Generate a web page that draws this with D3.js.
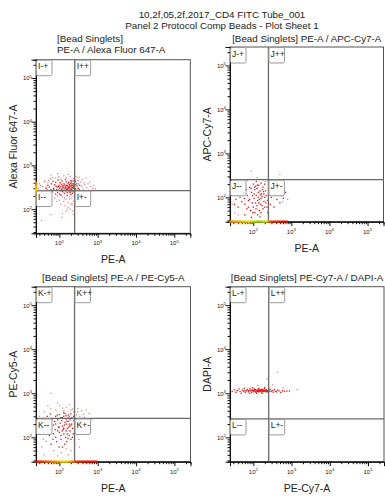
<!DOCTYPE html>
<html><head><meta charset="utf-8">
<script src="https://cdn.jsdelivr.net/npm/d3@7"></script>
<style>
body{margin:0;background:#fff}
svg{display:block}
text{font-family:"Liberation Sans",Arial,sans-serif;fill:#222}
</style>
</head><body>
<svg id="c" width="385" height="499"></svg>
<script>
// ---------- DATA ----------
const mainTitle = ["10,2f,05,2f,2017_CD4 FITC Tube_001", "Panel 2 Protocol Comp Beads - Plot Sheet 1"];
const plotTitles = [["[Bead Singlets]", "PE-A / Alexa Fluor 647-A"], ["[Bead Singlets] PE-A / APC-Cy7-A"], ["[Bead Singlets] PE-A / PE-Cy5-A"], ["[Bead Singlets] PE-Cy7-A / DAPI-A"]];
const xLabels = ["PE-A", "PE-A", "PE-A", "PE-Cy7-A"];
const yLabels = ["Alexa Fluor 647-A", "APC-Cy7-A", "PE-Cy5-A", "DAPI-A"];
const gateNames = ["I", "J", "K", "L"];
const gateX = [250, 250, 248, 252];
const gateY = [266, 252, 268, 262];
const axisDomain = [24.5, 262144];
const axisDomainY = [28, 262144];
const majorTicks = [100, 1000, 10000, 100000];
const majorExp = ["2", "3", "4", "5"];

const p1Core = [[70,300],[85,280],[95,330],[110,260],[125,310],[140,290],[155,350],[170,270],[185,320],[200,300],[215,380],[230,260],[250,330],[265,290],
[75,360],[90,240],[105,400],[120,340],[135,230],[150,420],[165,300],[180,250],[195,390],[210,280],[225,340],[245,240],[260,360],
[65,250],[80,410],[100,300],[115,370],[130,270],[145,330],[160,240],[175,410],[190,280],[205,350],[220,230],[240,300],[275,270],
[88,320],[102,220],[118,290],[132,380],[148,260],[162,340],[178,300],[192,240],[208,420],[222,310],[238,380],[255,250],
[72,280],[98,350],[122,250],[142,310],[168,380],[188,340],[212,260],[232,300],[95,270],[150,300],[180,330],[210,320],[128,340],[160,280],
[112,285],[138,355],[172,315],[198,265],[228,355],[82,335],[108,325],[152,275],[186,365],[242,325],
[55,320],[60,280],[50,350],[45,300],[62,380],[58,240],[290,340],[310,300],[285,380],[330,280],[300,250],[340,350],
[68,430],[92,460],[118,440],[145,470],[200,450],[230,440],[260,430],[110,210],[160,205],[200,215],[250,210],[80,220]];
const p1Sparse = [[28,300],[32,350],[38,260],[45,320],[50,400],[55,230],[42,450],[58,500],[48,280],[35,230],
[300,300],[320,380],[350,260],[380,330],[420,290],[460,360],[520,310],[580,270],[650,330],[750,300],[870,290],[310,450],[400,480],[290,520],
[110,480],[150,520],[190,560],[230,500],[260,470],[130,580],[170,620],[80,520],[60,600],
[90,200],[120,190],[150,170],[180,190],[210,180],[240,200],[100,160],[130,150],[170,140],[200,130],[230,150],[260,180],[140,120],[170,110],[110,130],[190,100],[150,90],[220,90],[120,80],[250,110],[280,210],[300,180],[330,220],[75,180],[60,150],
[34,55],[60,75],[115,65],[230,75],[500,520],[400,200],[90,650],[250,640],
[30,380],[40,420],[36,330],[44,260],[52,450],[26,270],[360,420],[440,400],[480,250],[560,380],[620,420],[700,260],[800,350],[390,230],[270,560],[330,540],[95,560],[65,530],[185,170],[135,180],[85,150],[215,130],[160,100],[300,150],[360,190]];
const p1PileLeft = [[200,0.3],[240,0.5],[280,0.6],[330,0.45],[390,0.3]];

const p2Core = [[60,70],[80,90],[100,60],[120,110],[140,75],[160,95],[180,55],[90,130],[110,45],[130,85],[150,140],[170,65],[200,100],[70,110],[50,80],[85,50],[105,95],[125,160],[145,50],[165,120],[190,80],[210,140],[230,60],[95,75],[115,180],[135,100],[155,70],[175,150],[75,60],[55,120],[65,150],[45,100],[40,60],[35,90],[30,130],[100,200],[120,230],[80,170],[140,190],[160,210],[180,170],[200,60],[220,110],[240,85],[260,130],[280,70],[300,100],[320,160],[350,60],[380,120],[420,90],[460,140],[500,75],[550,110],[620,95],[700,130],[200,200],[130,40],[90,35],[150,36],[60,40],[240,45],[110,150],[170,105],[190,120],[75,85],[125,65],[105,120],[145,90],[115,75],[95,110],[135,130],[160,45],[270,200],[300,240],
[48,140],[58,95],[68,55],[88,160],[98,45],[108,170],[118,55],[128,190],[152,115],[185,135],[215,75],[250,160],[38,110],[32,70],[42,170]];
const p2Sparse = [[89,395],[125,280],[500,330],[205,230],[50,205],[70,240],[180,250],[40,180],[330,210],[600,80],[40,40],[250,50],[28,70],[33,45],[400,180],[280,110],[650,150],[800,90]];
const p2PileBottom = [[25,0.35],[29,0.4],[34,0.45],[40,0.5],[47,0.55],[55,0.6],[65,0.65],[77,0.7],[92,0.8],[110,0.9],[130,0.95],[155,0.9],[185,0.8],[220,0.6],[265,0.2],[320,0.12],[390,0.1],[470,0.08],[570,0.05],[690,0.05]];

const p3Core = [[60,150],[80,200],[100,130],[120,180],[140,220],[160,160],[180,110],[90,250],[110,90],[130,300],[150,140],[170,230],[200,190],[70,120],[50,170],[85,80],[105,210],[125,150],[145,100],[165,270],[190,140],[210,200],[230,120],[95,170],[115,240],[135,190],[155,80],[175,170],[75,230],[55,110],[65,260],[45,200],[40,130],[35,160],[30,220],[100,330],[120,60],[80,300],[140,350],[160,120],[180,200],[200,90],[220,160],[240,240],[260,130],[280,190],[110,110],[130,160],[150,200],[90,140],[120,280],[60,70],[70,190],[150,260],[170,320],[210,280],[100,170],[130,120],[80,100],[190,250],
[48,300],[58,340],[68,90],[78,150],[88,320],[98,60],[108,280],[118,140],[128,360],[138,70],[148,310],[158,230],[168,95],[178,290],[188,180],[198,340],[218,100],[235,300],[255,210],[42,240]];
const p3Sparse = [[300,150],[350,210],[400,120],[450,280],[520,180],[600,350],[700,250],[320,90],[280,320],[380,400],[500,420],[300,450],[250,500],[200,420],[150,480],[100,520],[60,450],[40,380],[30,300],[90,600],[130,400],[180,550],[60,1000],[230,380],[120,460],[45,80],[35,60],[70,50],[110,45],[150,55],[200,50],[90,38],[250,70],[330,60],[170,40],[40,40],
[32,120],[28,180],[38,90],[420,330],[560,260],[650,150],[340,300],[300,380],[220,440],[80,420],[50,520],[270,260]];
const p3PileBottom = [[25,0.1],[29,0.12],[34,0.15],[40,0.2],[47,0.25],[55,0.3],[65,0.35],[77,0.4],[92,0.5],[110,0.6],[130,0.65],[155,0.6],[185,0.45],[220,0.3],[265,0.15],[320,0.1],[390,0.08],[470,0.05],[570,0.05],[690,0.05],[830,0.05]];

const p4Core = [[28,1100],[32,1200],[35,1050],[38,1150],[42,1250],[45,1100],[48,1000],[52,1180],[55,1120],[58,1300],[62,1050],[66,1150],[70,1220],[74,1080],[78,1170],[82,1260],[86,1120],[90,1040],[94,1190],[98,1130],[102,1080],[106,1250],[110,1150],[114,1200],[118,1050],[122,1120],[126,1180],[130,1100],[134,1240],[138,1160],[142,1070],[146,1140],[150,1210],[155,1100],[160,1170],[165,1060],[170,1230],[175,1130],[180,1190],[185,1090],[190,1150],[195,1270],[200,1120],[210,1080],[220,1200],[230,1140],[240,1060],[250,1180],[260,1120],[275,1230],[290,1100],[310,1160],[330,1060],[350,1210],[375,1120],[400,1080],[430,1180],[470,1130],[520,1050],[580,1150],[650,1100],[750,1120],[880,1130],
[60,1130],[75,1130],[88,1160],[100,1150],[112,1110],[125,1150],[136,1120],[148,1170],[158,1130],[168,1150],[178,1110],[188,1160],[198,1140],[215,1150],[235,1110],[255,1150],[120,1000],[140,1300],[170,990],[200,1350],[96,1330],[80,1000],[150,1150],[162,1190],[132,1160],[108,1190],[184,1130],[205,1170],[225,1110]];
const p4Sparse = [[425,3000],[230,2100],[1400,1200],[600,1350],[130,1500],[320,1550]];

// ---------- LAYOUT ----------
const svg = d3.select("#c");
const panels = [
  {left:36, top:59.7, w:154.3, h:173.6, core:p1Core, sparse:p1Sparse, pileLeft:p1PileLeft, pileBottom:null},
  {left:230, top:47, w:153.5, h:174.7, core:p2Core, sparse:p2Sparse, pileLeft:null, pileBottom:p2PileBottom},
  {left:36, top:286.7, w:154.5, h:175, core:p3Core, sparse:p3Sparse, pileLeft:null, pileBottom:p3PileBottom},
  {left:230, top:286.7, w:154, h:175, core:p4Core, sparse:p4Sparse, pileLeft:null, pileBottom:null}
];
const densityColor = d3.scaleLinear().domain([0, 0.35, 0.7, 1]).range(["#e00000", "#ff8a00", "#eee000", "#80d000"]);

// main title
svg.selectAll("text.main").data(mainTitle).join("text")
  .attr("x", 222).attr("y", (d, i) => 18 + i * 10.5)
  .attr("text-anchor", "middle").attr("font-size", 9.8).text(d => d);

const minorTicks = [];
for (let e = 1; e <= 5; e++) for (let m = 2; m <= 9; m++) {
  const v = m * Math.pow(10, e);
  if (v >= axisDomain[0] && v <= axisDomain[1]) minorTicks.push(v);
}

panels.forEach((p, i) => {
  const g = svg.append("g").attr("transform", `translate(${p.left},${p.top})`);
  const x = d3.scaleLog().domain(axisDomain).range([0, p.w]);
  const y = d3.scaleLog().domain(axisDomainY).range([p.h, 0]);

  // frame
  g.append("rect").attr("width", p.w).attr("height", p.h)
    .attr("fill", "none").attr("stroke", "#555").attr("stroke-width", 1);

  // points
  g.selectAll("rect.sp").data(p.sparse).join("rect")
    .attr("x", d => x(d[0]) - 0.6).attr("y", d => y(d[1]) - 0.6)
    .attr("width", 1.2).attr("height", 1.2).attr("fill", "#f07878");
  g.selectAll("rect.co").data(p.core).join("rect")
    .attr("x", d => x(d[0]) - 0.65).attr("y", d => y(d[1]) - 0.65)
    .attr("width", 1.3).attr("height", 1.3).attr("fill", "#e41414");

  // gates
  const gx = x(gateX[i]), gy = y(gateY[i]);
  g.append("line").attr("x1", gx).attr("x2", gx).attr("y1", 0).attr("y2", p.h)
    .attr("stroke", "#6a6a6a").attr("stroke-width", 1.3);
  g.append("line").attr("x1", 0).attr("x2", p.w).attr("y1", gy).attr("y2", gy)
    .attr("stroke", "#6a6a6a").attr("stroke-width", 1.3);

  // axes
  const xMinor = d3.axisBottom(x).tickValues(minorTicks).tickSize(2.5).tickFormat("");
  const xMajor = d3.axisBottom(x).tickValues(majorTicks).tickSize(4.5).tickFormat("");
  const yMinor = d3.axisLeft(y).tickValues(minorTicks).tickSize(2.5).tickFormat("");
  const yMajor = d3.axisLeft(y).tickValues(majorTicks).tickSize(4.5).tickFormat("");
  [xMinor, xMajor].forEach(a => g.append("g").attr("transform", `translate(0,${p.h})`).call(a)
    .call(s => { s.select(".domain").attr("stroke", "#111"); s.selectAll("line").attr("stroke", "#111"); }));
  [yMinor, yMajor].forEach(a => g.append("g").call(a)
    .call(s => { s.select(".domain").attr("stroke", "#111"); s.selectAll("line").attr("stroke", "#111"); }));

  // piles on axes
  if (p.pileBottom) {
    g.selectAll("rect.pb").data(p.pileBottom).join("rect")
      .attr("x", d => x(d[0]) - 1).attr("y", p.h - 1.2).attr("width", 3.6).attr("height", 2.2)
      .attr("fill", d => densityColor(d[1]));
  }
  if (p.pileLeft) {
    g.selectAll("rect.pl").data(p.pileLeft).join("rect")
      .attr("x", -1.1).attr("y", d => y(d[0]) - 1.5).attr("width", 2.2).attr("height", 3.4)
      .attr("fill", d => densityColor(d[1]));
  }

  // tick labels
  majorTicks.forEach((t, k) => {
    const tx = g.append("text").attr("x", x(t)).attr("y", p.h + 12)
      .attr("text-anchor", "middle").attr("font-size", 6).attr("fill", "#333");
    tx.append("tspan").text("10");
    tx.append("tspan").attr("dy", -2.5).attr("font-size", 4.3).text(majorExp[k]);
    const ty = g.append("text").attr("x", -4).attr("y", y(t) + 2.5)
      .attr("text-anchor", "end").attr("font-size", 6).attr("fill", "#333");
    ty.append("tspan").text("10");
    ty.append("tspan").attr("dy", -2.5).attr("font-size", 4.3).text(majorExp[k]);
  });

  // quadrant label boxes
  const quads = [
    {name: gateNames[i] + "-+", qx: 0, qy: 0},
    {name: gateNames[i] + "++", qx: gx, qy: 0},
    {name: gateNames[i] + "--", qx: 0, qy: gy},
    {name: gateNames[i] + "+-", qx: gx, qy: gy}
  ];
  quads.forEach(q => {
    g.append("rect").attr("x", q.qx + 0.5).attr("y", q.qy + 0.5).attr("width", 15.5).attr("height", 15.5)
      .attr("rx", 1.5).attr("fill", "#fff").attr("fill-opacity", 0.85)
      .attr("stroke", "#9a9a9a").attr("stroke-width", 1);
    g.append("text").attr("x", q.qx + 2).attr("y", q.qy + 9.5)
      .attr("font-size", 8.5).attr("fill", "#333").text(q.name);
  });

  // axis titles
  g.append("text").attr("x", p.w / 2).attr("y", p.h + 30)
    .attr("text-anchor", "middle").attr("font-size", 10.5).text(xLabels[i]);
  g.append("text").attr("transform", `translate(-19,${p.h / 2}) rotate(-90)`)
    .attr("text-anchor", "middle").attr("font-size", 10.5).text(yLabels[i]);

  // plot titles
  const tl = plotTitles[i];
  if (tl.length === 2) {
    tl.forEach((t, k) => svg.append("text").attr("x", 57).attr("y", 41.5 + k * 11.5)
      .attr("font-size", 9.8).text(t));
  } else {
    svg.append("text").attr("x", p.left + p.w / 2).attr("y", i === 1 ? 41.5 : 281)
      .attr("text-anchor", "middle").attr("font-size", 9.8).text(tl[0]);
  }
});
</script>
</body></html>
